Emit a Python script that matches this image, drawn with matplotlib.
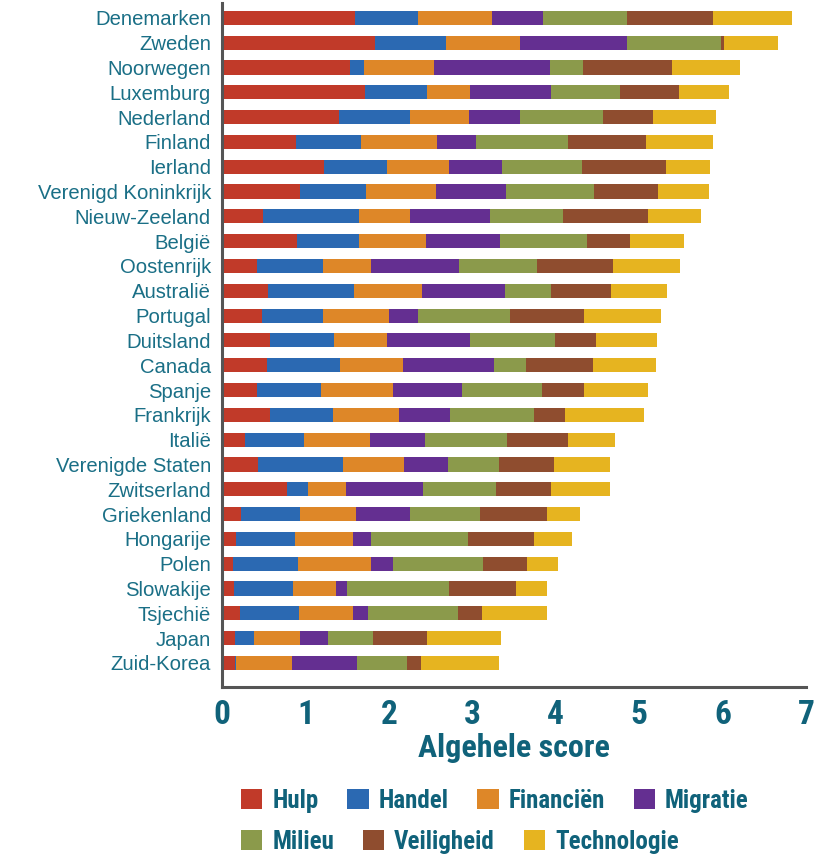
import matplotlib
matplotlib.use("Agg")
import matplotlib.pyplot as plt
import numpy as np
from matplotlib.patches import Patch

countries = ["Denemarken", "Zweden", "Noorwegen", "Luxemburg", "Nederland", "Finland",
             "Ierland", "Verenigd Koninkrijk", "Nieuw-Zeeland", "België", "Oostenrijk",
             "Australië", "Portugal", "Duitsland", "Canada", "Spanje", "Frankrijk", "Italië",
             "Verenigde Staten", "Zwitserland", "Griekenland", "Hongarije", "Polen",
             "Slowakije", "Tsjechië", "Japan", "Zuid-Korea"]

components = ["Hulp", "Handel", "Financiën", "Migratie", "Milieu", "Veiligheid", "Technologie"]

# per-component scores
hulp        = [1.59, 1.83, 1.53, 1.71, 1.40, 0.89, 1.22, 0.93, 0.49, 0.90, 0.42, 0.55, 0.48, 0.58,
               0.54, 0.42, 0.58, 0.27, 0.43, 0.78, 0.23, 0.17, 0.13, 0.14, 0.22, 0.15, 0.16]
handel      = [0.76, 0.85, 0.17, 0.75, 0.85, 0.78, 0.76, 0.80, 1.15, 0.74, 0.79, 1.03, 0.73, 0.76,
               0.87, 0.77, 0.75, 0.71, 1.02, 0.25, 0.70, 0.71, 0.78, 0.71, 0.70, 0.23, 0.01]
financien   = [0.89, 0.89, 0.84, 0.51, 0.71, 0.91, 0.74, 0.84, 0.61, 0.81, 0.58, 0.82, 0.79, 0.64,
               0.76, 0.86, 0.79, 0.79, 0.73, 0.46, 0.68, 0.69, 0.88, 0.52, 0.65, 0.55, 0.67]
migratie    = [0.61, 1.29, 1.39, 0.97, 0.61, 0.46, 0.64, 0.83, 0.96, 0.88, 1.05, 0.99, 0.35, 0.99,
               1.09, 0.83, 0.61, 0.66, 0.53, 0.92, 0.64, 0.22, 0.26, 0.13, 0.18, 0.34, 0.78]
milieu      = [1.01, 1.12, 0.40, 0.83, 1.00, 1.11, 0.96, 1.06, 0.88, 1.04, 0.94, 0.55, 1.10, 1.02,
               0.38, 0.96, 1.01, 0.99, 0.61, 0.87, 0.84, 1.16, 1.08, 1.22, 1.08, 0.54, 0.60]
veiligheid  = [1.03, 0.04, 1.06, 0.71, 0.60, 0.93, 1.00, 0.77, 1.02, 0.52, 0.91, 0.72, 0.89, 0.49,
               0.81, 0.50, 0.37, 0.73, 0.66, 0.66, 0.81, 0.79, 0.53, 0.80, 0.29, 0.65, 0.17]
technologie = [0.94, 0.64, 0.82, 0.60, 0.75, 0.81, 0.53, 0.61, 0.63, 0.65, 0.80, 0.67, 0.92, 0.73,
               0.75, 0.77, 0.95, 0.56, 0.67, 0.71, 0.39, 0.46, 0.37, 0.38, 0.78, 0.88, 0.93]

colors = ["#c13a29", "#2b69b2", "#de8728", "#642f91", "#8b9a4b", "#8f4d2f", "#e6b420"]
teal = "#1a6f86"
teal_dark = "#10627a"
narrow = ["Liberation Sans Narrow", "Roboto Condensed", "Roboto", "DejaVu Sans"]

series = [hulp, handel, financien, migratie, milieu, veiligheid, technologie]

fig = plt.figure(figsize=(8.31, 8.58), dpi=100)
ax = fig.add_axes([222/831, 1-687/858, (806-222)/831, (687-3)/858])

y = np.arange(len(countries))
left = np.zeros(len(countries))
for vals, col, name in zip(series, colors, components):
    v = np.array(vals)
    ax.barh(y, v, left=left, height=0.57, color=col, label=name, linewidth=0)
    left += v

ax.set_xlim(0, 7)
ax.set_ylim(len(countries) - 1 + 0.97, -0.6)
ax.set_yticks(y)
ax.set_yticklabels(countries, fontsize=14.6, color=teal, family=["Liberation Sans", "DejaVu Sans"])
ax.set_xticks(range(8))
ax.set_xticklabels([str(i) for i in range(8)], fontsize=24, color=teal_dark,
                   fontweight="bold", family=narrow)
ax.tick_params(axis="both", length=0)
ax.tick_params(axis="y", pad=8)
ax.tick_params(axis="x", pad=9)
for s in ["top", "right"]:
    ax.spines[s].set_visible(False)
for s in ["left", "bottom"]:
    ax.spines[s].set_color("#555555")
    ax.spines[s].set_linewidth(2.2)
ax.set_xlabel("Algehele score", fontsize=23, color=teal_dark, fontweight="bold",
              family=narrow, labelpad=1)

handles = [Patch(facecolor=c, edgecolor="none") for c in colors]
leg_kw = dict(frameon=False, handlelength=0.85, handleheight=0.85, handletextpad=0.4,
              columnspacing=1.15, borderaxespad=0, borderpad=0,
              prop=dict(size=18, weight="bold", family=narrow))
l1 = fig.legend(handles[:4], components[:4], loc="center left", bbox_to_anchor=(241/831, 1-801/858),
                ncol=4, **leg_kw)
l2 = fig.legend(handles[4:], components[4:], loc="center left", bbox_to_anchor=(241/831, 1-842/858),
                ncol=3, **leg_kw)
for l in (l1, l2):
    for t in l.get_texts():
        t.set_color(teal_dark)

fig.savefig("out.png", dpi=100)
